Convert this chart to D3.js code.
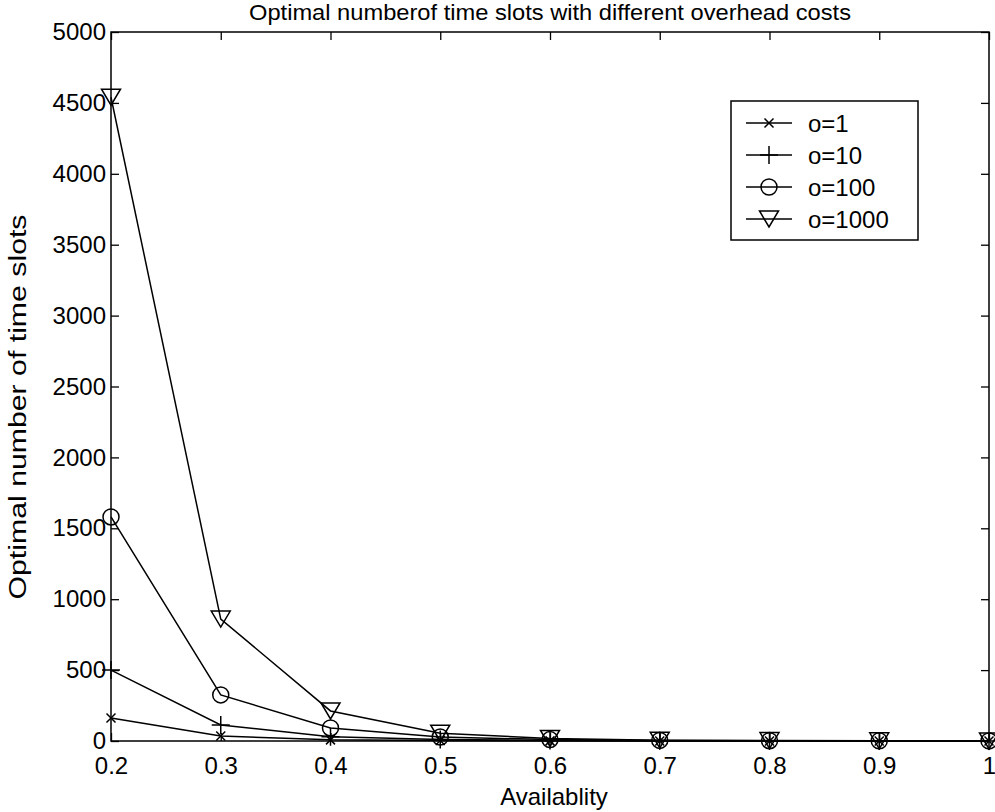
<!DOCTYPE html>
<html>
<head>
<meta charset="utf-8">
<script src="https://cdn.jsdelivr.net/npm/d3@7"></script>
<style>
  body { margin: 0; background: #fff; }
  text { font-family: "Liberation Sans", Arial, sans-serif; fill: #000; }
</style>
</head>
<body>
<svg id="chart" width="995" height="812"></svg>
<script>
// availability values on the x axis
var availability = [0.2, 0.3, 0.4, 0.5, 0.6, 0.7, 0.8, 0.9, 1.0];

// optimal number of time slots, one array per overhead cost
var o1    = [162, 35, 8, 3, 1, 0.5, 0.3, 0.2, 0.1];
var o10   = [500, 113, 30, 10, 4, 2, 1, 0.5, 0.3];
var o100  = [1580, 325, 92, 28, 10, 4, 2, 1, 0.5];
var o1000 = [4540, 860, 212, 55, 18, 6, 3, 1, 0.5];

var seriesNames = ["o=1", "o=10", "o=100", "o=1000"];
var seriesMarks = ["x", "plus", "circle", "tri"];

var xTicks = [0.2, 0.3, 0.4, 0.5, 0.6, 0.7, 0.8, 0.9, 1];
var yTicks = [0, 500, 1000, 1500, 2000, 2500, 3000, 3500, 4000, 4500, 5000];

var plot = {left: 111, right: 989, top: 32, bottom: 741};

var svg = d3.select("#chart");

var x = d3.scaleLinear().domain([0.2, 1]).range([plot.left, plot.right]);
var y = d3.scaleLinear().domain([0, 5000]).range([plot.bottom, plot.top]);

var allSeries = [o1, o10, o100, o1000].map(function(vals, i) {
    return {
        name: seriesNames[i],
        mark: seriesMarks[i],
        values: vals.map(function(v, j) { return {x: availability[j], y: v}; })
    };
});

// draw a marker of the given kind at (cx, cy)
function drawMarker(g, kind, cx, cy) {
    if (kind == "x") {
        var s = 4.5;
        g.append("path")
            .attr("d", "M" + (cx - s) + "," + (cy - s) + "L" + (cx + s) + "," + (cy + s) +
                       "M" + (cx - s) + "," + (cy + s) + "L" + (cx + s) + "," + (cy - s))
            .attr("stroke", "#000").attr("stroke-width", 1.5).attr("fill", "none");
    } else if (kind == "plus") {
        var p = 9;
        g.append("path")
            .attr("d", "M" + (cx - p) + "," + cy + "L" + (cx + p) + "," + cy +
                       "M" + cx + "," + (cy - p) + "L" + cx + "," + (cy + p))
            .attr("stroke", "#000").attr("stroke-width", 1.5).attr("fill", "none");
    } else if (kind == "circle") {
        g.append("circle")
            .attr("cx", cx).attr("cy", cy).attr("r", 8)
            .attr("stroke", "#000").attr("stroke-width", 1.5).attr("fill", "none");
    } else {
        var w = 9.5, h = 8;
        g.append("path")
            .attr("d", "M" + (cx - w) + "," + (cy - h) + "L" + (cx + w) + "," + (cy - h) +
                       "L" + cx + "," + (cy + h) + "Z")
            .attr("stroke", "#000").attr("stroke-width", 1.5).attr("fill", "none");
    }
}

// axes box with ticks on all four sides
var axisStyle = function(g) {
    g.select(".domain").remove();
    g.selectAll(".tick line").attr("stroke", "#000").attr("stroke-width", 1.3);
    g.selectAll(".tick text").style("font-size", "24px").attr("fill", "#000");
};

svg.append("g")
    .attr("transform", "translate(0," + plot.bottom + ")")
    .call(d3.axisBottom(x).tickValues(xTicks).tickSizeInner(-8).tickSizeOuter(0).tickPadding(16)
        .tickFormat(function(d) { return d == 1 ? "1" : d3.format(".1f")(d); }))
    .call(axisStyle);

svg.append("g")
    .attr("transform", "translate(0," + plot.top + ")")
    .call(d3.axisTop(x).tickValues(xTicks).tickSizeInner(-8).tickSizeOuter(0).tickFormat(""))
    .call(axisStyle);

svg.append("g")
    .attr("transform", "translate(" + plot.left + ",0)")
    .call(d3.axisLeft(y).tickValues(yTicks).tickSizeInner(-8).tickSizeOuter(0).tickPadding(5)
        .tickFormat(d3.format("d")))
    .call(axisStyle);

svg.append("g")
    .attr("transform", "translate(" + plot.right + ",0)")
    .call(d3.axisRight(y).tickValues(yTicks).tickSizeInner(-8).tickSizeOuter(0).tickFormat(""))
    .call(axisStyle);

svg.append("rect")
    .attr("x", plot.left).attr("y", plot.top)
    .attr("width", plot.right - plot.left).attr("height", plot.bottom - plot.top)
    .attr("fill", "none").attr("stroke", "#000").attr("stroke-width", 1.5);

// series lines and markers
var line = d3.line()
    .x(function(d) { return x(d.x); })
    .y(function(d) { return y(d.y); });

allSeries.forEach(function(s) {
    svg.append("path")
        .datum(s.values)
        .attr("d", line)
        .attr("fill", "none")
        .attr("stroke", "#000")
        .attr("stroke-width", 1.5);
    var mg = svg.append("g");
    s.values.forEach(function(d) {
        drawMarker(mg, s.mark, x(d.x), y(d.y));
    });
});

// legend
var legend = svg.append("g");
legend.append("rect")
    .attr("x", 731).attr("y", 101).attr("width", 187).attr("height", 139)
    .attr("fill", "#fff").attr("stroke", "#000").attr("stroke-width", 1.5);

allSeries.forEach(function(s, i) {
    var ly = 123 + i * 32;
    legend.append("line")
        .attr("x1", 746).attr("x2", 792).attr("y1", ly).attr("y2", ly)
        .attr("stroke", "#000").attr("stroke-width", 1.5);
    drawMarker(legend, s.mark, 769, ly);
    legend.append("text")
        .attr("x", 808).attr("y", ly + 9)
        .style("font-size", "24px")
        .text(s.name);
});

// titles
svg.append("text")
    .attr("x", (plot.left + plot.right) / 2).attr("y", 20)
    .attr("text-anchor", "middle")
    .attr("textLength", 602).attr("lengthAdjust", "spacingAndGlyphs")
    .style("font-size", "22px")
    .text("Optimal numberof time slots with different overhead costs");

svg.append("text")
    .attr("x", 554).attr("y", 805)
    .attr("text-anchor", "middle")
    .style("font-size", "24px")
    .text("Availablity");

svg.append("text")
    .attr("transform", "translate(26,407) rotate(-90)")
    .attr("text-anchor", "middle")
    .attr("textLength", 385).attr("lengthAdjust", "spacingAndGlyphs")
    .style("font-size", "23px")
    .text("Optimal number of time slots");
</script>
</body>
</html>
